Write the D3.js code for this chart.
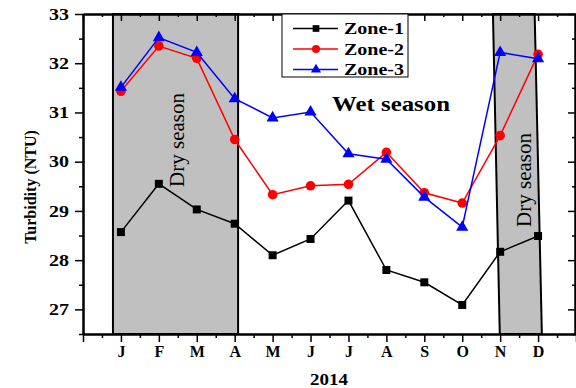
<!DOCTYPE html>
<html>
<head>
<meta charset="utf-8">
<script src="https://d3js.org/d3.v7.min.js"></script>
<style>
  body { margin: 0; background: #fff; }
</style>
</head>
<body>
<div id="chart"></div>
<script>
const months = ["J", "F", "M", "A", "M", "J", "J", "A", "S", "O", "N", "D"];
const zone1 = [28.57, 29.55, 29.03, 28.74, 28.10, 28.43, 29.21, 27.80, 27.55, 27.09, 28.17, 28.49];
const zone2 = [31.43, 32.35, 32.10, 30.45, 29.33, 29.51, 29.54, 30.19, 29.37, 29.16, 30.53, 32.18];
const zone3 = [31.51, 32.52, 32.22, 31.28, 30.89, 31.01, 30.16, 30.05, 29.28, 28.67, 32.22, 32.09];
const yTicks = [27, 28, 29, 30, 31, 32, 33];
// dry season bands in month-index units: [top left, top right, bottom left, bottom right]
const dryBands = [[-0.21, 3.09, -0.21, 3.09], [9.81, 10.91, 9.99, 11.1]];

const W = 576, H = 388;
const margin = {top: 14, right: 0, bottom: 54, left: 83};
const serif = "'Liberation Serif', 'Times New Roman', 'DejaVu Serif', serif";

const svg = d3.select("#chart").append("svg")
    .attr("width", W)
    .attr("height", H)
    .attr("font-family", serif);

const x = d3.scaleLinear()
    .domain([-1, 12])
    .range([margin.left, W - margin.right]);

const y = d3.scaleLinear()
    .domain([26.5, 33])
    .range([H - margin.bottom, margin.top]);

// dry season shading
svg.append("g")
    .selectAll("polygon")
    .data(dryBands)
    .join("polygon")
    .attr("points", d => [
        [x(d[0]), y(33)], [x(d[1]), y(33)],
        [x(d[3]), y(26.5)], [x(d[2]), y(26.5)]
    ].join(" "))
    .attr("fill", "#c0c0c0")
    .attr("stroke", "#000")
    .attr("stroke-width", 2);

// axes: major + minor ticks
const majorX = d3.range(-1, 13);
const minorX = d3.range(-0.5, 12, 1);
const majorY = d3.range(27, 33.01, 1);
const minorY = d3.range(26.5, 33.01, 1);

const axisStyle = g => {
    g.attr("font-family", serif);
    g.select(".domain").attr("stroke-width", 2);
    g.selectAll(".tick line").attr("stroke-width", 1.5);
    g.selectAll("text")
        .attr("font-size", 16)
        .attr("font-weight", "bold")
        .attr("fill", "#000")
        .style("font-family", serif);
};

// bottom
svg.append("g")
    .attr("transform", `translate(0,${y(26.5)})`)
    .call(d3.axisBottom(x).tickValues(minorX).tickSize(4).tickFormat("").tickSizeOuter(0))
    .call(axisStyle);
svg.append("g")
    .attr("transform", `translate(0,${y(26.5)})`)
    .call(d3.axisBottom(x).tickValues(majorX).tickSize(8).tickPadding(4).tickSizeOuter(0)
        .tickFormat(i => months[i] || ""))
    .call(axisStyle);

// top
svg.append("g")
    .attr("transform", `translate(0,${y(33)})`)
    .call(d3.axisTop(x).tickValues(minorX).tickSize(-3).tickFormat("").tickSizeOuter(0))
    .call(axisStyle);
svg.append("g")
    .attr("transform", `translate(0,${y(33)})`)
    .call(d3.axisTop(x).tickValues(majorX).tickSize(-7).tickFormat("").tickSizeOuter(0))
    .call(axisStyle);

// left
svg.append("g")
    .attr("transform", `translate(${x(-1)},0)`)
    .call(d3.axisLeft(y).tickValues(minorY).tickSize(4).tickFormat("").tickSizeOuter(0))
    .call(axisStyle);
svg.append("g")
    .attr("transform", `translate(${x(-1)},0)`)
    .call(d3.axisLeft(y).tickValues(yTicks).tickSize(8).tickPadding(6).tickSizeOuter(0)
        .tickFormat(d3.format("d")))
    .call(axisStyle)
    .call(g => g.selectAll("text").attr("textLength", 20).attr("lengthAdjust", "spacingAndGlyphs"));

// right
svg.append("g")
    .attr("transform", `translate(${x(12) - 1},0)`)
    .call(d3.axisRight(y).tickValues(majorY).tickSize(-7).tickFormat("").tickSizeOuter(0))
    .call(axisStyle);
svg.append("g")
    .attr("transform", `translate(${x(12) - 1},0)`)
    .call(d3.axisRight(y).tickValues(minorY).tickSize(-3).tickFormat("").tickSizeOuter(0))
    .call(axisStyle);

// series
const series = [
    {name: "Zone-1", values: zone1, color: "#000000", symbol: d3.symbolSquare, size: 64},
    {name: "Zone-2", values: zone2, color: "#ff0000", symbol: d3.symbolCircle, size: 72},
    {name: "Zone-3", values: zone3, color: "#0000ff", symbol: d3.symbolTriangle, size: 64}
];

const line = d3.line()
    .x((d, i) => x(i))
    .y(d => y(d));

series.forEach(s => {
    svg.append("path")
        .datum(s.values)
        .attr("fill", "none")
        .attr("stroke", s.color)
        .attr("stroke-width", 1.5)
        .attr("d", line);
    svg.append("g")
        .selectAll("path")
        .data(s.values)
        .join("path")
        .attr("transform", (d, i) => `translate(${x(i)},${y(d)})`)
        .attr("d", d3.symbol(s.symbol, s.size))
        .attr("fill", s.color);
});

// legend
const legend = svg.append("g").attr("transform", "translate(282,14)");
legend.append("rect")
    .attr("width", 126)
    .attr("height", 63)
    .attr("fill", "#fff")
    .attr("stroke", "#000")
    .attr("stroke-width", 1);
series.forEach((s, i) => {
    const ly = 14.5 + i * 20.5;
    legend.append("line")
        .attr("x1", 11).attr("x2", 56)
        .attr("y1", ly).attr("y2", ly)
        .attr("stroke", s.color)
        .attr("stroke-width", 1.5);
    legend.append("path")
        .attr("transform", `translate(34,${ly})`)
        .attr("d", d3.symbol(s.symbol, s.size * 0.7))
        .attr("fill", s.color);
    legend.append("text")
        .attr("x", 62)
        .attr("y", ly + 5.5)
        .attr("font-size", 16)
        .attr("font-weight", "bold")
        .attr("textLength", 60)
        .attr("lengthAdjust", "spacingAndGlyphs")
        .text(s.name);
});

// season labels
svg.append("text")
    .attr("x", 332)
    .attr("y", 111)
    .attr("font-size", 21)
    .attr("font-weight", "bold")
    .attr("textLength", 118)
    .attr("lengthAdjust", "spacingAndGlyphs")
    .text("Wet season");

svg.append("text")
    .attr("transform", "translate(184,140) rotate(-90)")
    .attr("text-anchor", "middle")
    .attr("font-size", 21)
    .text("Dry season");

svg.append("text")
    .attr("transform", "translate(531,180) rotate(-90)")
    .attr("text-anchor", "middle")
    .attr("font-size", 21)
    .text("Dry season");

// axis titles
svg.append("text")
    .attr("x", 310)
    .attr("y", 385)
    .attr("font-size", 16)
    .attr("font-weight", "bold")
    .attr("textLength", 38)
    .attr("lengthAdjust", "spacingAndGlyphs")
    .text("2014");

svg.append("text")
    .attr("transform", "translate(36,187) rotate(-90)")
    .attr("text-anchor", "middle")
    .attr("font-size", 16)
    .attr("font-weight", "bold")
    .text("Turbidity (NTU)");
</script>
</body>
</html>
